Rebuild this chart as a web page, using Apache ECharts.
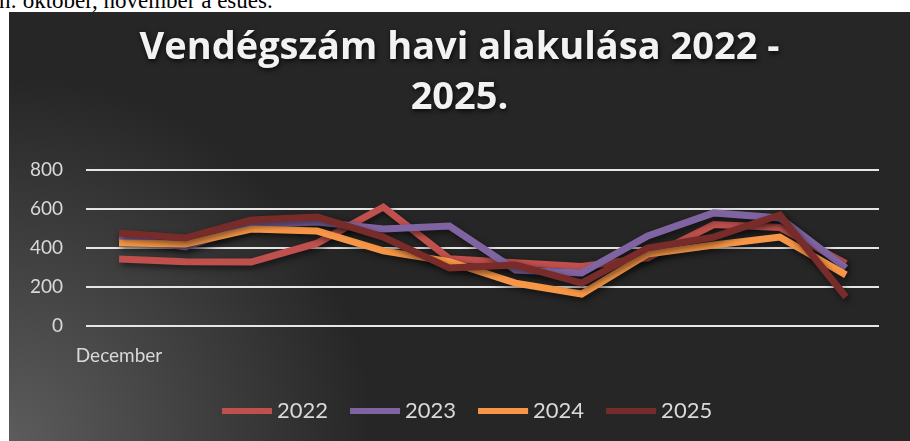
<!DOCTYPE html>
<html>
<head>
<meta charset="utf-8">
<script src="https://cdn.jsdelivr.net/npm/echarts@6/dist/echarts.min.js"></script>
<style>
html,body{margin:0;padding:0;background:#fff;width:910px;height:441px;overflow:hidden;}
#note{position:absolute;left:-1px;top:-12px;font-family:"Liberation Serif",serif;font-size:23px;color:#000;white-space:nowrap;}
#main{position:absolute;left:9px;top:12px;width:901px;height:429px;}
</style>
</head>
<body>
<div id="note">n: október, november a esüés.</div>
<div id="main"></div>
<script>
var months = ['December','Január','Február','Március','Április','Május','Június','Július','Augusztus','Szeptember','Október','November'];
var years = ['2022','2023','2024','2025'];
var v2022 = [343, 330, 328, 425, 610, 345, 325, 305, 350, 520, 505, 320];
var v2023 = [456, 405, 518, 533, 497, 513, 287, 272, 462, 580, 554, 297];
var v2024 = [426, 420, 497, 487, 385, 330, 220, 164, 369, 415, 456, 262];
var v2025 = [477, 451, 544, 559, 456, 297, 313, 220, 400, 456, 569, 149];
var yTicks = [0, 200, 400, 600, 800];
var colors = ['#c0504d','#8064a2','#f79646','#772c2a'];

var allData = [v2022, v2023, v2024, v2025];
var series = [];
for (var i = 0; i < years.length; i++) {
	series.push({
		name: years[i],
		type: 'line',
		data: allData[i],
		symbol: 'none',
		color: colors[i],
		lineStyle: {
			width: 7,
			color: colors[i],
			join: 'miter',
			shadowColor: 'rgba(0,0,0,0.55)',
			shadowBlur: 6,
			shadowOffsetX: 2,
			shadowOffsetY: 3
		},
		z: 2 + i
	});
}

var myChart = echarts.init(document.getElementById('main'));
var option = {
	animation: false,
	backgroundColor: new echarts.graphic.RadialGradient(0, 1, 0.85, [
		{offset: 0, color: '#5c5c5c'},
		{offset: 1, color: '#262626'}
	]),
	title: {
		text: 'Vendégszám havi alakulása 2022 -\n2025.',
		left: 'center',
		top: 6,
		textStyle: {
			fontFamily: 'Open Sans',
			fontWeight: 'bold',
			fontSize: 38,
			lineHeight: 50,
			color: '#f2f2f2',
			textShadowColor: 'rgba(0,0,0,0.8)',
			textShadowBlur: 5,
			textShadowOffsetX: 1,
			textShadowOffsetY: 2
		}
	},
	grid: {
		left: 77,
		right: 31,
		top: 158,
		bottom: 115
	},
	legend: {
		data: years,
		left: 213,
		top: 388,
		padding: 0,
		itemWidth: 50,
		itemHeight: 6,
		itemGap: 22,
		icon: 'rect',
		textStyle: {
			fontFamily: 'Lato',
			fontSize: 22,
			color: '#d9d9d9'
		}
	},
	xAxis: {
		type: 'category',
		data: months,
		axisLine: {show: false},
		axisTick: {show: false},
		axisLabel: {
			interval: function (idx) { return idx === 0; },
			margin: 20,
			fontFamily: 'Lato',
			fontSize: 19,
			color: '#d9d9d9'
		}
	},
	yAxis: {
		type: 'value',
		min: yTicks[0],
		max: yTicks[yTicks.length - 1],
		interval: 200,
		axisLine: {show: false},
		axisTick: {show: false},
		axisLabel: {
			margin: 23,
			fontFamily: 'Lato',
			fontSize: 19,
			color: '#d9d9d9'
		},
		splitLine: {
			lineStyle: {color: '#e6e6e6', width: 2}
		}
	},
	series: series
};
myChart.setOption(option);
</script>
</body>
</html>
